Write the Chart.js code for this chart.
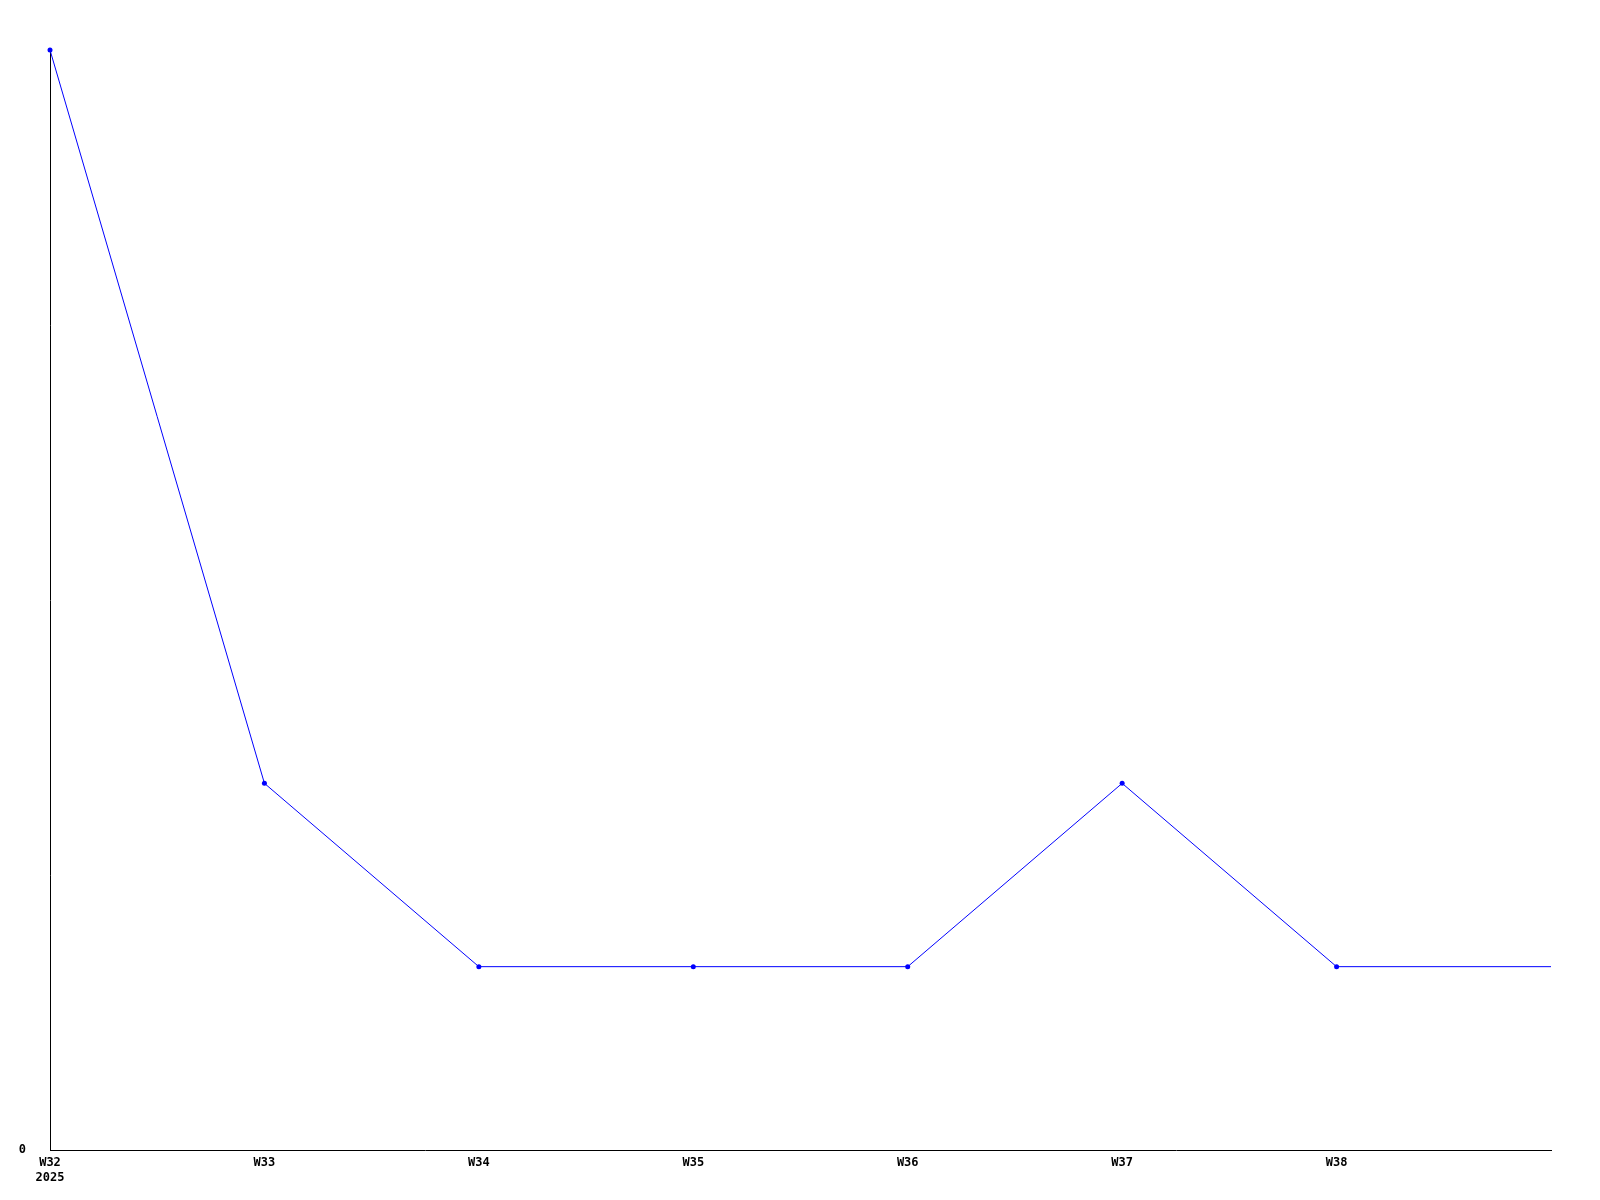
<!DOCTYPE html>
<html>
<head>
<meta charset="utf-8">
<script src="https://cdn.jsdelivr.net/npm/chart.js@4/dist/chart.umd.min.js"></script>
<style>
  html, body { margin: 0; padding: 0; background: #fff; }
  #wrap { width: 1600px; height: 1200px; }
</style>
</head>
<body>
<div id="wrap"><canvas id="weekChart" width="1600" height="1200"></canvas></div>
<script>
// weeks (last one has no label shown)
const weekLabels = [['W32', '2025'], 'W33', 'W34', 'W35', 'W36', 'W37', 'W38', ''];
const counts = [6, 2, 1, 1, 1, 2, 1, 1];
const markerSizes = [2.5, 2.5, 2.5, 2.5, 2.5, 2.5, 2.5, 0];
const yTicks = [0];

const ctx = document.getElementById('weekChart').getContext('2d');
const chart = new Chart(ctx, {
    type: 'line',
    data: {
        labels: weekLabels,
        datasets: [{
            data: counts,
            borderColor: '#0000ff',
            backgroundColor: '#0000ff',
            borderWidth: 1,
            pointRadius: markerSizes,
            pointHoverRadius: markerSizes,
            pointBorderWidth: 0,
            tension: 0,
            clip: false
        }]
    },
    options: {
        responsive: false,
        animation: false,
        layout: { padding: { left: 0, right: 49, top: 50, bottom: 0 } },
        plugins: {
            legend: { display: false },
            tooltip: { enabled: false }
        },
        scales: {
            x: {
                offset: false,
                grid: { display: false },
                border: { color: '#000', width: 1 },
                ticks: {
                    color: '#000',
                    font: { family: 'DejaVu Sans Mono', size: 12, weight: 'bold', lineHeight: 1.25 },
                    padding: -3,
                    maxRotation: 0,
                    autoSkip: false
                },
                afterFit: function(scale) { scale.height = 50; }
            },
            y: {
                min: 0,
                max: 6,
                grid: { display: false },
                border: { color: '#000', width: 1 },
                afterBuildTicks: function(scale) {
                    scale.ticks = yTicks.map(v => ({ value: v }));
                },
                ticks: {
                    color: '#000',
                    font: { family: 'DejaVu Sans Mono', size: 12, weight: 'bold' },
                    padding: 16
                },
                afterFit: function(scale) { scale.width = 50; }
            }
        }
    }
});
</script>
</body>
</html>
